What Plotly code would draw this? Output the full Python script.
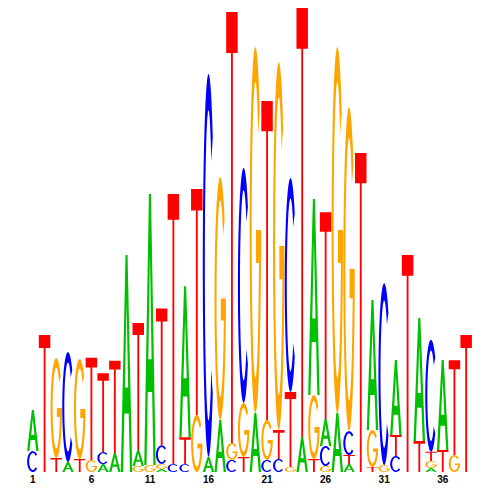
import numpy as np
import plotly.graph_objects as go

# Sequence logo data (information content in bits per letter, per position)
positions = list(range(1, 39))
A = [0.177, 0, 0, 0.043, 0, 0, 0.034, 0.082, 0.935, 0.069,
     1.168, 0.013, 0, 0.651, 0, 0.065, 0.224, 0, 0, 0.254,
     0, 0, 0, 0.151, 0.845, 0.116, 0.254, 0.034, 0, 0.56,
     0, 0.323, 0, 0.53, 0.017, 0.388, 0, 0]
C = [0.09, 0, 0, 0.474, 0, 0, 0.052, 0, 0, 0,
     0, 0.08, 0.034, 0.034, 0, 1.651, 0, 0.052, 1.013, 0,
     0.052, 0.056, 0.922, 0, 0, 0.086, 0, 0.103, 0, 0,
     0.784, 0.069, 0, 0, 0.483, 0, 0, 0]
G = [0, 0, 0.431, 0, 0.431, 0.052, 0, 0, 0, 0.026,
     0.03, 0.022, 0, 0, 0.246, 0, 1.047, 0.073, 0.233, 1.578,
     0.172, 1.586, 0.022, 0, 0.276, 0.026, 1.578, 1.397, 0, 0.159,
     0.03, 0, 0, 0, 0.03, 0, 0.073, 0]
T = [0, 0.59, 0.06, 0, 0.056, 0.44, 0.34, 0.397, 0, 0.547,
     0, 0.59, 1.164, 0.116, 0.974, 0, 0, 1.858, 0.065, 0,
     1.375, 0.125, 0.323, 1.849, 0.056, 0.892, 0, 0.039, 1.375, 0.022,
     0, 0.091, 0.935, 0.134, 0.04, 0.095, 0.409, 0.59]
tick_vals = [1, 6, 11, 16, 21, 26, 31, 36]
tick_text = [str(v) for v in tick_vals]

colors = {"A": "#00c000", "C": "#0000ff", "G": "#ffa500", "T": "#ff0000"}


# ---- glyph outlines in a unit box (x 0..1, y 0..1) ----
def arc(cx, cy, rx, ry, a0, a1, n=48):
    t = np.radians(np.linspace(a0, a1, n))
    return [(cx + rx * np.cos(a), cy + ry * np.sin(a)) for a in t]


def glyph(letter):
    if letter == "T":
        s = 0.08
        b = 0.905
        return [[(0.5 - s, 0), (0.5 + s, 0), (0.5 + s, b), (1, b), (1, 1),
                 (0, 1), (0, b), (0.5 - s, b)]]
    if letter == "A":
        outer = [(0, 0), (0.41, 1), (0.59, 1), (1, 0), (0.8, 0), (0.69, 0.27),
                 (0.31, 0.27), (0.2, 0)]
        hole = [(0.36, 0.39), (0.64, 0.39), (0.5, 0.78)]
        return [outer, hole]
    if letter == "C":
        outer = arc(0.5, 0.5, 0.5, 0.5, 42, 318)
        inner = arc(0.5, 0.5, 0.32, 0.405, 318, 42)
        return [outer + inner]
    if letter == "G":
        outer = arc(0.5, 0.5, 0.5, 0.5, 40, 360)
        bar = [(0.55, 0.5), (0.55, 0.41), (0.82, 0.41)]
        inner = arc(0.5, 0.5, 0.32, 0.405, 338, 40)
        return [outer + bar + inner]
    return []


shapes = []
for i, p in enumerate(positions):
    stack = [("A", A[i]), ("C", C[i]), ("G", G[i]), ("T", T[i])]
    stack = sorted([s for s in stack if s[1] > 0], key=lambda s: s[1])
    base = 0.0
    for letter, h in stack:
        path = ""
        for sub in glyph(letter):
            pts = [(p - 0.5 + 0.01 + x * 0.98, base + y * h) for x, y in sub]
            path += "M " + " L ".join(f"{x:.4f},{y:.5f}" for x, y in pts) + " Z "
        shapes.append(dict(type="path", path=path.strip(), xref="x", yref="y",
                           fillcolor=colors[letter], line=dict(width=0),
                           layer="above"))
        base += h

fig = go.Figure()
fig.add_trace(go.Scatter(x=[positions[0], positions[-1]], y=[0, 0], mode="markers",
                         marker=dict(opacity=0), hoverinfo="skip", showlegend=False))
fig.update_layout(
    width=500, height=500,
    margin=dict(l=19, r=36, t=0, b=36),
    paper_bgcolor="white", plot_bgcolor="white",
    shapes=shapes,
    showlegend=False,
    xaxis=dict(range=[0.5, 38.5], tickmode="array", tickvals=tick_vals,
               ticktext=tick_text, showgrid=False, zeroline=False, showline=False,
               ticks="", fixedrange=True,
               tickfont=dict(family="Liberation Sans, Arial", size=10,
                             color="black", weight="bold")),
    yaxis=dict(range=[0, 2.0], visible=False, showgrid=False, zeroline=False,
               fixedrange=True),
)
fig.write_html("out.html")
